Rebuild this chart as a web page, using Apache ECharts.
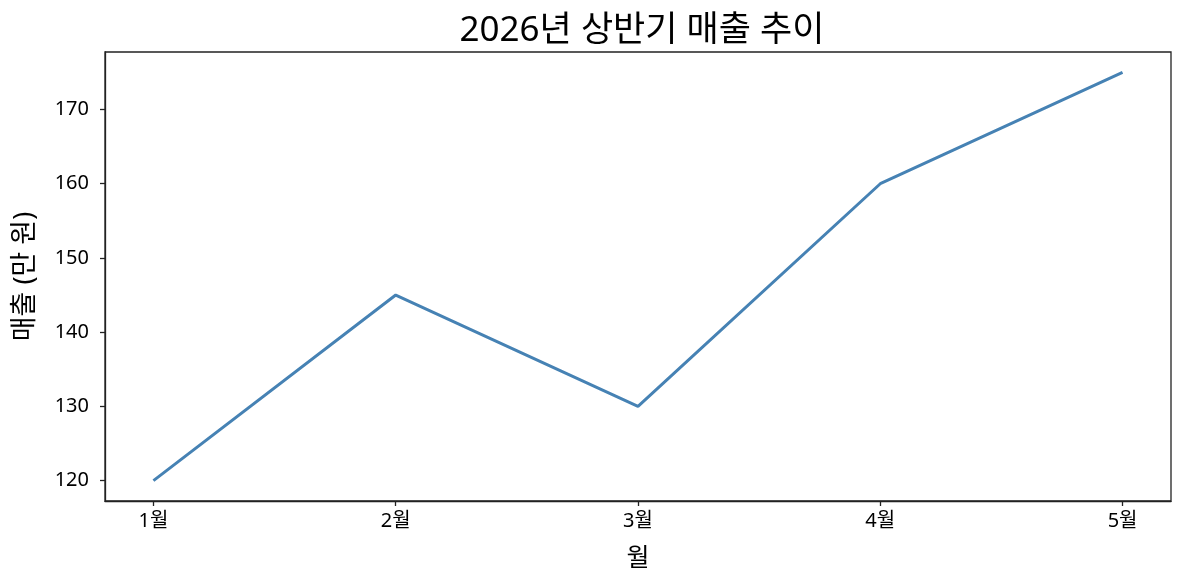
<!DOCTYPE html>
<html><head><meta charset="utf-8">
<script src="https://cdn.jsdelivr.net/npm/echarts@6/dist/echarts.min.js"></script>
<style>html,body{margin:0;padding:0;background:#fff}#c{width:1184px;height:585px}</style>
</head><body><div id="c"></div>
<script>
const categories = ['1월','2월','3월','4월','5월'];
const sales = [120, 145, 130, 160, 175];
const yTicks = [120, 130, 140, 150, 160, 170];
const title = '2026년 상반기 매출 추이';
const xName = '월';
const yName = '매출 (만 원)';

const font = "'Noto Sans', 'Noto Sans CJK KR'";
const chart = echarts.init(document.getElementById('c'));
const xIdx = categories.map((_, i) => i);
chart.setOption({
  animation: false,
  title: {text: title, left: 637, top: 9, textAlign: 'center',
    textStyle: {fontFamily: font, fontSize: 35, fontWeight: 'normal', color: '#000'}},
  grid: {left: 105, right: 13, top: 52, bottom: 84, outerBoundsMode: 'none',
    show: true, borderColor: '#222', borderWidth: 1.3, backgroundColor: 'transparent'},
  xAxis: {type: 'value', min: -0.2, max: 4.2,
    name: xName, nameLocation: 'middle', nameGap: 45,
    nameTextStyle: {fontFamily: font, fontSize: 25, color: '#000'},
    axisLine: {show: true, onZero: false, lineStyle: {color: '#222', width: 1.3}},
    axisTick: {show: true, length: 5, customValues: xIdx, lineStyle: {color: '#222', width: 1.3}},
    axisLabel: {customValues: xIdx, margin: 10, fontFamily: font, fontSize: 20, color: '#000',
      formatter: v => categories[Math.round(v)]},
    splitLine: {show: false}},
  yAxis: {type: 'value', min: 117.25, max: 177.75,
    name: yName, nameLocation: 'middle', nameGap: 66,
    nameTextStyle: {fontFamily: font, fontSize: 27, color: '#000'},
    axisLine: {show: true, onZero: false, lineStyle: {color: '#222', width: 1.3}},
    axisTick: {show: true, length: 5, customValues: yTicks, lineStyle: {color: '#222', width: 1.3}},
    axisLabel: {customValues: yTicks, margin: 16, fontFamily: font, fontSize: 20, color: '#000'},
    splitLine: {show: false}},
  series: [{type: 'line', data: sales.map((v, i) => [i, v]), showSymbol: false,
    lineStyle: {color: '#4682b4', width: 3}, itemStyle: {color: '#4682b4'}}]
});
</script></body></html>
